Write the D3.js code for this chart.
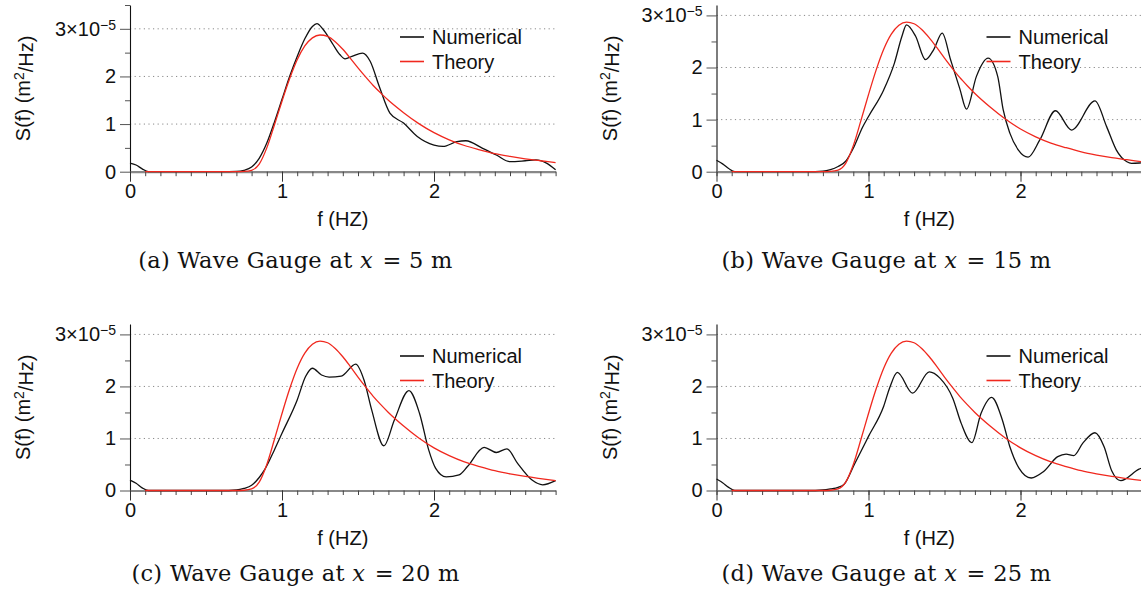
<!DOCTYPE html>
<html><head><meta charset="utf-8">
<script src="https://cdn.jsdelivr.net/npm/d3@7"></script>
<style>body{margin:0;background:#fff;overflow:hidden}</style>
</head><body>
<svg id="chart" width="1141" height="601"></svg>
<script>
// ---------- data ----------
const xMajorTicks = [0, 1, 2];
const yMajorTicks = [0, 1, 2, 3];
const legendLabels = ["Numerical", "Theory"];
const xLabel = "f (HZ)";
const captionLetters = ["(a)", "(b)", "(c)", "(d)"];
const gaugePositions = ["5", "15", "20", "25"];

// theory spectrum (units of 1e-5 m^2/Hz)
const theoryF = [0.1, 0.5, 0.7, 0.75, 0.8, 0.85, 0.9, 0.95, 1.0, 1.05, 1.1, 1.15, 1.2, 1.25, 1.3, 1.35, 1.4, 1.45, 1.5, 1.55, 1.6, 1.65, 1.7, 1.8, 1.9, 2.0, 2.1, 2.2, 2.3, 2.4, 2.5, 2.6, 2.7, 2.8];
const theoryS = [0, 0, 0, 0.005, 0.03, 0.16, 0.5, 0.98, 1.48, 1.95, 2.35, 2.64, 2.81, 2.87, 2.84, 2.73, 2.57, 2.38, 2.18, 1.99, 1.81, 1.65, 1.5, 1.24, 1.01, 0.82, 0.67, 0.55, 0.46, 0.38, 0.32, 0.27, 0.23, 0.19];

// (a) x = 5 m
const fA = [0, 0.04, 0.08, 0.12, 0.3, 0.6, 0.7, 0.75, 0.8, 0.85, 0.9, 0.95, 1.0, 1.05, 1.1, 1.15, 1.2, 1.23, 1.27, 1.33, 1.38, 1.415, 1.46, 1.53, 1.58, 1.64, 1.71, 1.8, 1.89, 2.0, 2.06, 2.15, 2.21, 2.32, 2.41, 2.5, 2.6, 2.67, 2.74, 2.8];
const sA = [0.18, 0.14, 0.06, 0.0, 0, 0, 0.005, 0.03, 0.1, 0.28, 0.6, 1.04, 1.52, 2.0, 2.42, 2.79, 3.05, 3.11, 2.99, 2.7, 2.46, 2.37, 2.42, 2.49, 2.32, 1.79, 1.23, 1.02, 0.74, 0.56, 0.53, 0.63, 0.65, 0.49, 0.35, 0.21, 0.23, 0.25, 0.18, 0.04];

// (b) x = 15 m
const fB = [0, 0.04, 0.08, 0.12, 0.3, 0.6, 0.7, 0.75, 0.8, 0.85, 0.9, 0.96, 1.0, 1.1, 1.17, 1.22, 1.25, 1.31, 1.375, 1.43, 1.485, 1.54, 1.6, 1.645, 1.71, 1.787, 1.85, 1.886, 1.93, 1.985, 2.05, 2.127, 2.23, 2.336, 2.49, 2.566, 2.63, 2.7, 2.73, 2.8, 2.85];
const sB = [0.22, 0.15, 0.06, 0, 0, 0, 0.01, 0.04, 0.1, 0.2, 0.45, 0.85, 1.06, 1.57, 2.08, 2.6, 2.82, 2.6, 2.15, 2.35, 2.66, 2.15, 1.6, 1.2, 1.83, 2.18, 1.83, 1.19, 0.74, 0.42, 0.28, 0.61, 1.17, 0.8, 1.36, 0.87, 0.42, 0.19, 0.16, 0.17, 0.18];

// (c) x = 20 m
const fC = [0, 0.04, 0.08, 0.12, 0.3, 0.6, 0.7, 0.75, 0.8, 0.85, 0.886, 0.95, 1.0, 1.1, 1.155, 1.2, 1.26, 1.31, 1.39, 1.485, 1.54, 1.59, 1.67, 1.74, 1.835, 1.905, 1.965, 2.01, 2.08, 2.165, 2.22, 2.33, 2.41, 2.48, 2.55, 2.645, 2.715, 2.8];
const sC = [0.2, 0.14, 0.05, 0, 0, 0, 0.01, 0.04, 0.1, 0.25, 0.4, 0.78, 1.1, 1.74, 2.19, 2.35, 2.22, 2.18, 2.2, 2.43, 2.12, 1.55, 0.86, 1.36, 1.92, 1.48, 0.78, 0.43, 0.26, 0.3, 0.46, 0.83, 0.73, 0.8, 0.52, 0.2, 0.11, 0.19];

// (d) x = 25 m
const fD = [0, 0.04, 0.08, 0.12, 0.3, 0.6, 0.7, 0.75, 0.8, 0.84, 0.91, 1.0, 1.1, 1.14, 1.19, 1.29, 1.40, 1.47, 1.555, 1.61, 1.68, 1.74, 1.81, 1.88, 1.93, 1.99, 2.07, 2.15, 2.245, 2.3, 2.35, 2.41, 2.49, 2.55, 2.6, 2.66, 2.78, 2.85];
const sD = [0.22, 0.15, 0.06, 0, 0, 0, 0.01, 0.03, 0.06, 0.12, 0.52, 1.04, 1.62, 1.98, 2.27, 1.87, 2.28, 2.16, 1.77, 1.29, 0.92, 1.48, 1.79, 1.36, 0.84, 0.43, 0.24, 0.36, 0.65, 0.7, 0.67, 0.91, 1.11, 0.84, 0.38, 0.19, 0.41, 0.48];

// ---------- layout ----------
const panels = [
  {f: fA, s: sA, x0: 130,   y0: 171.7, top: 5,   ymax: 3.5, capX: 295.5, capY: 268},
  {f: fB, s: sB, x0: 716.5, y0: 171.7, top: 5,   ymax: 3.2, capX: 886.5, capY: 268},
  {f: fC, s: sC, x0: 130,   y0: 490.5, top: 324, ymax: 3.2, capX: 295.5, capY: 581},
  {f: fD, s: sD, x0: 716.5, y0: 490.5, top: 324, ymax: 3.2, capX: 886.5, capY: 581}
];
const pxPerHz = 152;
const fMax = 2.8;
const sansFont = "'Liberation Sans', Arial, Helvetica, sans-serif";
const serifFont = "'DejaVu Serif', serif";
const fs = 20;
const red = "#f0281e";

const svg = d3.select("#chart");

panels.forEach((p, i) => {
  const x = d3.scaleLinear().domain([0, fMax]).range([p.x0, p.x0 + fMax * pxPerHz]);
  const y = d3.scaleLinear().domain([0, p.ymax]).range([p.y0, p.top]);
  const g = svg.append("g");

  // grid lines
  g.selectAll("line.grid").data(yMajorTicks.filter(v => v > 0)).enter().append("line")
    .attr("x1", x(0)).attr("x2", x(fMax))
    .attr("y1", d => y(d)).attr("y2", d => y(d))
    .attr("stroke", "#8a8a8a").attr("stroke-width", 1)
    .attr("stroke-dasharray", "1.2,3.4");

  // y axis minor
  const yMinor = d3.range(0.5, p.ymax + 0.001, 1);
  g.append("g").attr("transform", `translate(${p.x0},0)`)
    .call(d3.axisLeft(y).tickValues(yMinor).tickSize(5).tickSizeOuter(0).tickFormat(""))
    .call(a => a.select(".domain").remove())
    .call(a => a.selectAll("line").attr("stroke", "#555"));
  // y axis major
  const yAx = g.append("g").attr("transform", `translate(${p.x0},0)`)
    .call(d3.axisLeft(y).tickValues(yMajorTicks).tickSize(10).tickSizeOuter(0).tickPadding(4)
      .tickFormat(d => d === 3 ? "3×10" : String(d)));
  yAx.select(".domain").attr("stroke", "#111").attr("stroke-width", 1.1);
  yAx.selectAll("line").attr("stroke", "#555");
  yAx.selectAll("text").attr("font-family", sansFont).attr("font-size", fs).attr("fill", "#111");
  yAx.selectAll(".tick").filter(d => d === 3).select("text")
    .append("tspan").attr("dy", "-0.42em").attr("font-size", 14).text("−5");

  // x axis minor
  const xMinor = d3.range(0, fMax + 0.001, 0.1).map(v => Math.round(v * 10) / 10);
  g.append("g").attr("transform", `translate(0,${p.y0})`)
    .call(d3.axisBottom(x).tickValues(xMinor).tickSize(4.5).tickSizeOuter(0).tickFormat(""))
    .call(a => a.select(".domain").attr("stroke", "#888").attr("stroke-width", 2.2))
    .call(a => a.selectAll("line").attr("stroke", "#444"));
  // x axis major
  const xAx = g.append("g").attr("transform", `translate(0,${p.y0})`)
    .call(d3.axisBottom(x).tickValues(xMajorTicks).tickSize(10).tickSizeOuter(0).tickPadding(2).tickFormat(d3.format("d")));
  xAx.select(".domain").remove();
  xAx.selectAll("line").attr("stroke", "#333");
  xAx.selectAll("text").attr("font-family", sansFont).attr("font-size", fs).attr("fill", "#111");

  // curves
  const line = d3.line().x(d => x(d[0])).y(d => y(d[1])).curve(d3.curveMonotoneX);
  g.append("path").datum(p.f.map((v, k) => [v, p.s[k]]))
    .attr("d", line).attr("fill", "none").attr("stroke", "#111").attr("stroke-width", 1.3);
  g.append("path").datum(theoryF.map((v, k) => [v, theoryS[k]]))
    .attr("d", line).attr("fill", "none").attr("stroke", red).attr("stroke-width", 1.3);

  // legend
  const legColors = ["#111", red];
  legendLabels.forEach((lab, k) => {
    const ly = p.top + 32 + k * 24.5;
    g.append("line").attr("x1", p.x0 + 270).attr("x2", p.x0 + 294)
      .attr("y1", ly).attr("y2", ly).attr("stroke", legColors[k]).attr("stroke-width", 1.6);
    g.append("text").attr("x", p.x0 + 302).attr("y", ly).attr("dy", "0.35em")
      .attr("font-family", sansFont).attr("font-size", fs).attr("fill", "#111").text(lab);
  });

  // axis labels
  g.append("text").attr("x", (x(0) + x(fMax)) / 2).attr("y", p.y0 + 47).attr("dy", "0.35em")
    .attr("text-anchor", "middle").attr("font-family", sansFont).attr("font-size", fs)
    .attr("fill", "#111").text(xLabel);
  const yl = g.append("text")
    .attr("transform", `translate(${p.x0 - 107},${(p.top + p.y0) / 2}) rotate(-90)`)
    .attr("dy", "0.35em").attr("text-anchor", "middle")
    .attr("font-family", sansFont).attr("font-size", fs).attr("fill", "#111");
  yl.append("tspan").text("S(f) (m");
  yl.append("tspan").attr("dy", "-0.45em").attr("font-size", 14).text("2");
  yl.append("tspan").attr("dy", "0.45em").text("/Hz)");

  // caption
  const cap = svg.append("text").attr("x", p.capX).attr("y", p.capY).attr("text-anchor", "middle")
    .attr("font-family", serifFont).attr("font-size", 22.5).attr("fill", "#111")
    .attr("letter-spacing", 0.3).attr("xml:space", "preserve");
  cap.append("tspan").text(captionLetters[i] + " Wave Gauge at ");
  cap.append("tspan").attr("font-style", "italic").text("x");
  cap.append("tspan").attr("dx", 2).text(" = ");
  cap.append("tspan").text(gaugePositions[i] + " m");
});
</script>
</body></html>
